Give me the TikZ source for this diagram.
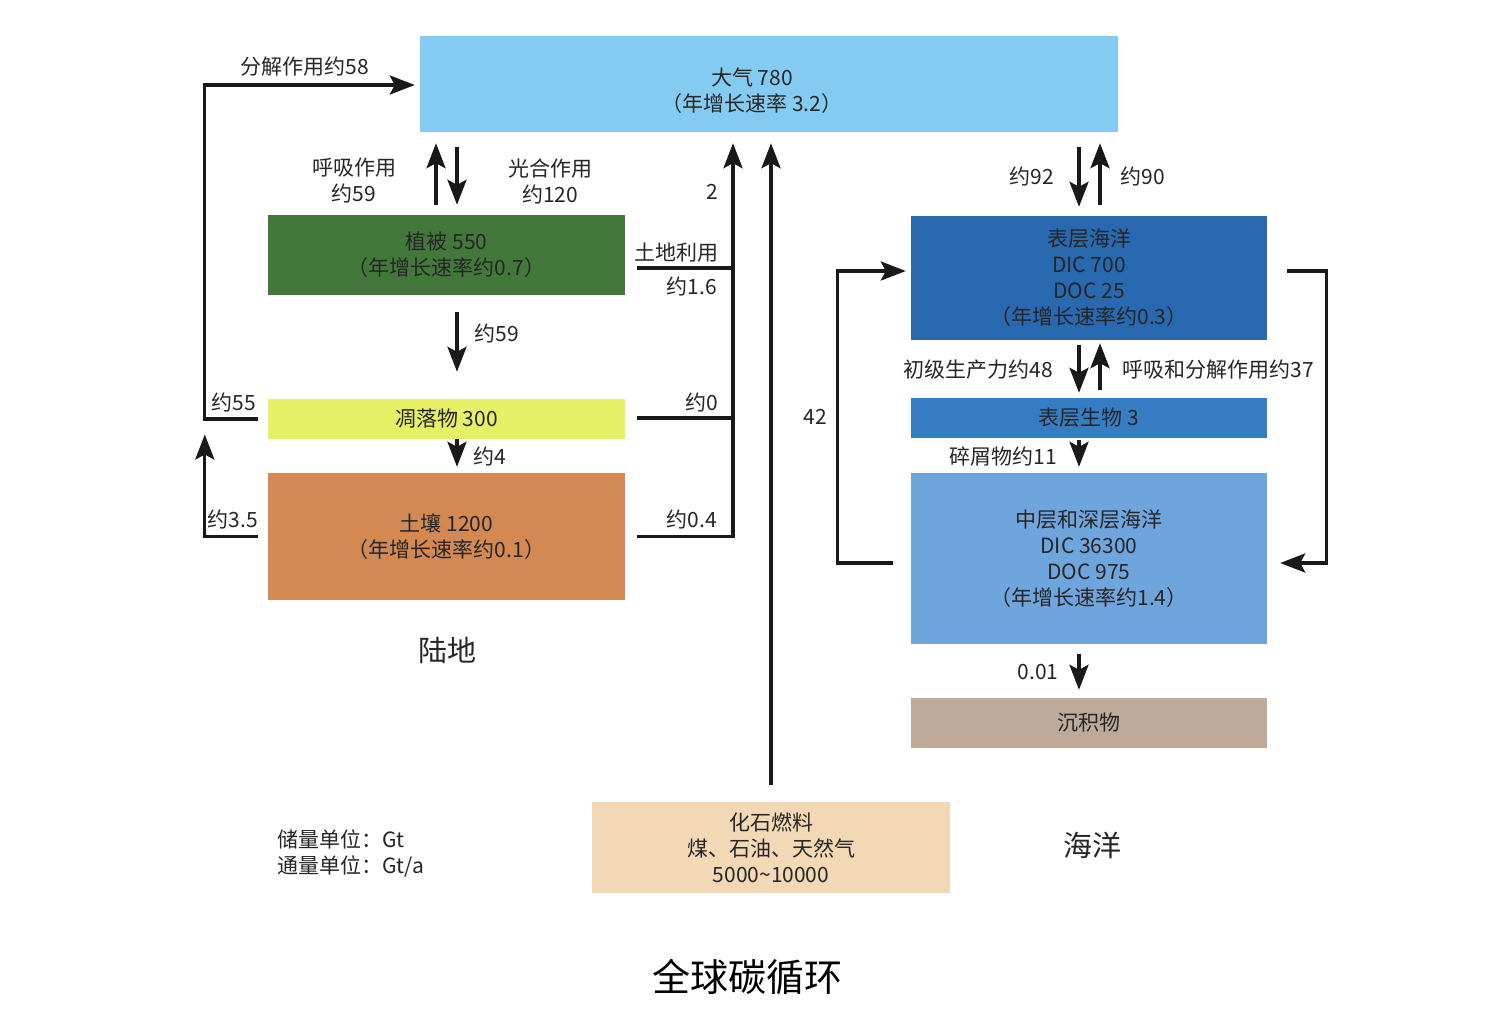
\documentclass[tikz,border=0pt]{standalone}
\usepackage{fontspec}
\newfontfamily\cjk{Noto Sans CJK SC}
\usetikzlibrary{arrows.meta}

\definecolor{atmo}{HTML}{84CBF2}
\definecolor{vegetal}{HTML}{42783A}
\definecolor{litiere}{HTML}{E6F064}
\definecolor{terre}{HTML}{D48852}
\definecolor{surface}{HTML}{2869AF}
\definecolor{biota}{HTML}{377DC3}
\definecolor{profond}{HTML}{6EA5DC}
\definecolor{sediment}{HTML}{BEAA9B}
\definecolor{fossile}{HTML}{F2D8B4}

\begin{document}
\begin{tikzpicture}[x=1pt,y=-1pt]
% définition des styles
\tikzstyle{reservoir}=[rectangle, inner sep=0pt, align=center, text=black!85, font=\cjk\fontsize{21}{26}\selectfont]
\tikzstyle{fleche}=[-{Stealth[length=25pt,width=19pt,inset=5pt]}, line width=3.3pt, color=black!90]
\tikzstyle{trait}=[line width=3.3pt, color=black!90]
\tikzstyle{etiquette}=[inner sep=0pt, align=center, text=black!85, font=\cjk\fontsize{21}{26}\selectfont]

\useasboundingbox (0,0) rectangle (1494,1021);
\fill[white] (0,0) rectangle (1494,1021);

% les nœuds
\node[reservoir, fill=atmo, minimum width=698pt, minimum height=96pt] (ATM) at (769,84) {};
\node[reservoir] (ATMt) at (752,91) {大气 780\\（年增长速率 3.2）};
\node[reservoir, fill=vegetal, minimum width=357pt, minimum height=80pt] (VEG) at (446.5,255) {植被 550\\（年增长速率约0.7）};
\node[reservoir, fill=litiere, minimum width=357pt, minimum height=40pt] (LIT) at (446.5,419) {凋落物 300};
\node[reservoir, fill=terre, minimum width=357pt, minimum height=127pt] (SOL) at (446.5,536.5) {土壤 1200\\（年增长速率约0.1）};
\node[reservoir, fill=surface, minimum width=356pt, minimum height=124pt] (OS) at (1089,278) {表层海洋\\DIC 700\\DOC 25\\（年增长速率约0.3）};
\node[reservoir, fill=biota, minimum width=356pt, minimum height=40pt] (BIO) at (1089,418) {表层生物 3};
\node[reservoir, fill=profond, minimum width=356pt, minimum height=171pt] (OP) at (1089,558.5) {中层和深层海洋\\DIC 36300\\DOC 975\\（年增长速率约1.4）};
\node[reservoir, fill=sediment, minimum width=356pt, minimum height=50pt] (SED) at (1089,723) {沉积物};
\node[reservoir, fill=fossile, minimum width=358pt, minimum height=91pt] (FOS) at (771,847.5) {化石燃料\\煤、石油、天然气\\5000\char`~10000};

% les flèches (terre)
\draw[fleche] ([xshift=-10pt]LIT.west) -- ++(-53,0) |- ([xshift=-5pt,yshift=-1pt]ATM.west);
\draw[fleche] ([xshift=-10pt]SOL.west) -- ++(-53,0) -- ++(0,-102);
\draw[fleche, shorten <=10pt, shorten >=11pt] ([xshift=-10.5pt]VEG.north) -- ([xshift=-10.5pt]VEG.north |- ATM.south);
\draw[fleche, shorten <=15pt, shorten >=10pt] ([xshift=10.5pt]VEG.north |- ATM.south) -- ([xshift=10.5pt]VEG.north);
\draw[fleche, shorten <=17pt, shorten >=27pt] ([xshift=10.5pt]VEG.south) -- ([xshift=10.5pt]LIT.north);
\draw[fleche, shorten >=6pt] ([xshift=10.5pt]LIT.south) -- ([xshift=10.5pt]SOL.north);
\draw[fleche, shorten >=11pt] ([xshift=12pt]SOL.east) -| ([xshift=-36pt]ATM.south);
\draw[trait] ([xshift=12pt,yshift=-13pt]VEG.east) -- ++(96,0);
\draw[trait] ([xshift=12pt,yshift=1pt]LIT.east) -- ++(96,0);
\draw[fleche, shorten <=17pt, shorten >=11pt] (FOS.north) -- (FOS.north |- ATM.south);

% les flèches (océan)
\draw[fleche, shorten <=15pt, shorten >=9pt] ([xshift=-10pt]OS.north |- ATM.south) -- ([xshift=-10pt]OS.north);
\draw[fleche, shorten <=11pt, shorten >=11pt] ([xshift=11pt]OS.north) -- ([xshift=11pt]OS.north |- ATM.south);
\draw[fleche, shorten <=5pt, shorten >=5pt] ([xshift=-10pt]OS.south) -- ([xshift=-10pt]BIO.north);
\draw[fleche, shorten <=8pt, shorten >=3pt] ([xshift=11pt]BIO.north) -- ([xshift=11pt]OS.south);
\draw[fleche, shorten <=2pt, shorten >=6pt] ([xshift=-10pt]BIO.south) -- ([xshift=-10pt]OP.north);
\draw[fleche, shorten <=10pt, shorten >=8pt] ([xshift=-10pt]OP.south) -- ([xshift=-10pt]SED.north);
\draw[fleche] ([xshift=-18pt,yshift=-4.5pt]OP.west) -- ++(-55,0) |- ([xshift=-5pt,yshift=7pt]OS.west);
\draw[fleche] ([xshift=20pt,yshift=7pt]OS.east) -- ++(39,0) |- ([xshift=13pt,yshift=-4.5pt]OP.east);

% les étiquettes
\node[etiquette] (e58) at (305,67) {分解作用约58};
\node[etiquette] (e55) at (234,402) {约55};
\node[etiquette] (e35) at (233,519) {约3.5};
\node[etiquette] (eresp) at (354,181) {呼吸作用\\约59};
\node[etiquette] (ephoto) at (550,181) {光合作用\\约120};
\node[etiquette] (e59) at (497,333) {约59};
\node[etiquette] (e4) at (490,456) {约4};
\node[etiquette] (e2) at (712,192) {2};
\node[etiquette] (esol) at (676,253) {土地利用};
\node[etiquette] (e16) at (692,286) {约1.6};
\node[etiquette] (e0) at (702,402) {约0};
\node[etiquette] (e04) at (692,519) {约0.4};
\node[etiquette] (e92) at (1032,176) {约92};
\node[etiquette] (e90) at (1143,176) {约90};
\node[etiquette] (e48) at (978,370) {初级生产力约48};
\node[etiquette] (e37) at (1218,370) {呼吸和分解作用约37};
\node[etiquette] (e11) at (1003,456) {碎屑物约11};
\node[etiquette] (e42) at (815,417) {42};
\node[etiquette] (e001) at (1038,672) {0.01};
\node[etiquette, font=\cjk\fontsize{29}{34}\selectfont] (terre) at (447,650) {陆地};
\node[etiquette, font=\cjk\fontsize{29}{34}\selectfont] (ocean) at (1092,845) {海洋};
\node[etiquette, anchor=west, align=left] (unites) at (277,853) {储量单位：Gt\\通量单位：Gt/a};

% la légende
\node[etiquette, text=black, font=\cjk\fontsize{38}{44}\selectfont] (titre) at (747,977) {全球碳循环};
\end{tikzpicture}
\end{document}
